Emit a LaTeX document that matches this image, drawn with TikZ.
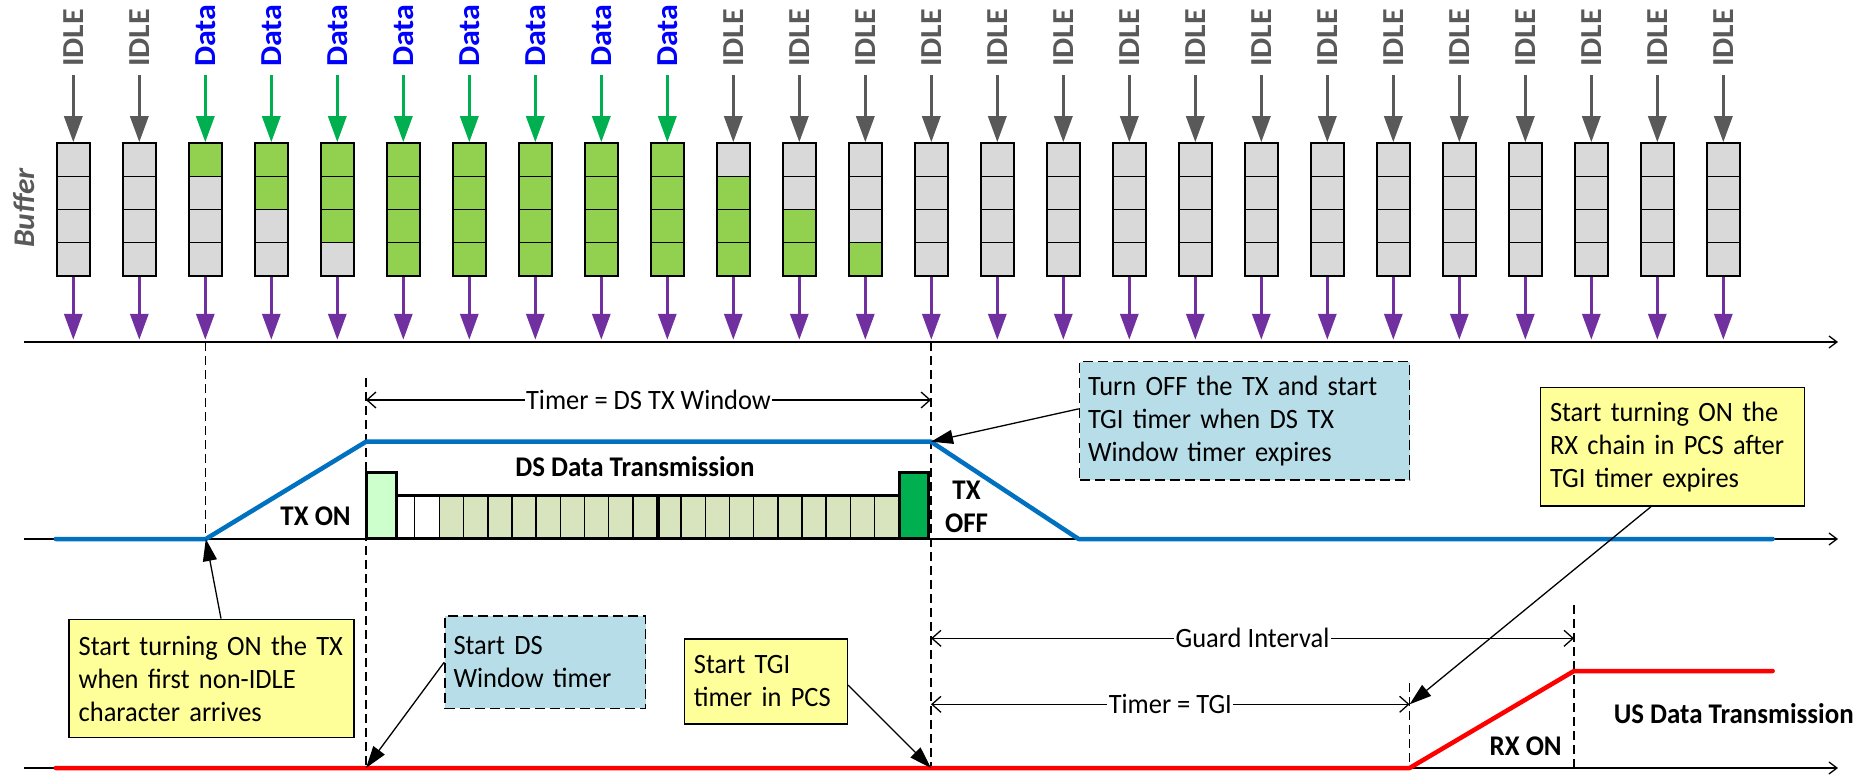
\documentclass[tikz,border=0pt]{standalone}
\usepackage{fontspec}
\setmainfont{Carlito}[FakeStretch=0.945]
\newfontfamily\colfamily{Carlito}[FakeStretch=1.05]
\usetikzlibrary{arrows.meta,calc}
\definecolor{idlegray}{HTML}{595959}
\definecolor{datablue}{HTML}{0000FF}
\definecolor{arrgreen}{HTML}{00B050}
\definecolor{arrpurple}{HTML}{7030A0}
\definecolor{cg}{HTML}{D9D9D9}
\definecolor{cG}{HTML}{92D050}
\definecolor{txblue}{HTML}{0070C0}
\definecolor{rxred}{HTML}{FF0000}
\definecolor{noteyellow}{HTML}{FFFF99}
\definecolor{noteblue}{HTML}{B7DEE8}
\definecolor{pktlight}{HTML}{CCFFCC}
\definecolor{pktolive}{HTML}{D7E4BD}
\definecolor{pktdark}{HTML}{00B050}
\newcommand{\txtfont}{\fontsize{28}{33}\selectfont}
\newcommand{\boldlabfont}{\fontsize{28.5}{33}\selectfont\bfseries}
\newcommand{\colfont}{\fontsize{30.5}{36}\selectfont\colfamily\bfseries}
\begin{document}
\begin{tikzpicture}[x=1pt,y=-1pt,
  cellbox/.style={draw=black, line width=1.2pt},
  bufframe/.style={draw=black, line width=1.5pt, minimum width=33pt, minimum height=133pt, inner sep=0pt},
  collabel/.style={rotate=90, anchor=base west, inner sep=0pt, font=\colfont},
  colarrow/.style={line width=3.2pt, -{Triangle[length=26pt,width=18pt]}},
  axisline/.style={draw=black, line width=1.3pt, -{Straight Barb[length=8pt,width=12pt]}},
  vdash/.style={draw=black, line width=1.3pt, dash pattern=on 9pt off 5pt},
  dimline/.style={draw=black, line width=1.3pt, {Straight Barb[length=9pt,width=16pt]}-{Straight Barb[length=9pt,width=16pt]}},
  dimlabel/.style={fill=white, inner sep=1.5pt, font=\txtfont},
  sigtx/.style={draw=txblue, line width=4.5pt, line cap=round, line join=round},
  sigrx/.style={draw=rxred, line width=4.5pt, line cap=round, line join=round},
  pktcell/.style={draw=black, line width=1.5pt},
  pktframe/.style={draw=black, line width=3pt, inner sep=0pt, outer sep=0pt},
  notey/.style={draw=black, line width=1.5pt, fill=noteyellow, align=left, inner xsep=9.5pt, inner ysep=0pt, font=\txtfont},
  noteb/.style={draw=black, line width=1.5pt, dash pattern=on 10pt off 5pt, fill=noteblue, align=left, inner xsep=8.5pt, inner ysep=0pt, font=\txtfont},
  callarrow/.style={draw=black, line width=1.3pt, -{Triangle[length=22pt,width=14pt]}},
  siglabel/.style={font=\boldlabfont, inner sep=0pt, align=center}
]
\useasboundingbox (0,0) rectangle (1873,778);

% axes
\coordinate (a1s) at (24,342); \coordinate (a1e) at (1838,342);
\coordinate (a2s) at (24,539); \coordinate (a2e) at (1838,539);
\coordinate (a3s) at (24,768); \coordinate (a3e) at (1838,768);
\draw[axisline] (a1s) -- (a1e);
\draw[axisline] (a2s) -- (a2e);
\draw[axisline] (a3s) -- (a3e);

% buffer columns
\foreach \i/\lab/\tc/\ac/\ca/\cb/\cc/\cd in {
 1/IDLE/idlegray/idlegray/cg/cg/cg/cg,
 2/IDLE/idlegray/idlegray/cg/cg/cg/cg,
 3/Data/datablue/arrgreen/cG/cg/cg/cg,
 4/Data/datablue/arrgreen/cG/cG/cg/cg,
 5/Data/datablue/arrgreen/cG/cG/cG/cg,
 6/Data/datablue/arrgreen/cG/cG/cG/cG,
 7/Data/datablue/arrgreen/cG/cG/cG/cG,
 8/Data/datablue/arrgreen/cG/cG/cG/cG,
 9/Data/datablue/arrgreen/cG/cG/cG/cG,
 10/Data/datablue/arrgreen/cG/cG/cG/cG,
 11/IDLE/idlegray/idlegray/cg/cG/cG/cG,
 12/IDLE/idlegray/idlegray/cg/cg/cG/cG,
 13/IDLE/idlegray/idlegray/cg/cg/cg/cG,
 14/IDLE/idlegray/idlegray/cg/cg/cg/cg,
 15/IDLE/idlegray/idlegray/cg/cg/cg/cg,
 16/IDLE/idlegray/idlegray/cg/cg/cg/cg,
 17/IDLE/idlegray/idlegray/cg/cg/cg/cg,
 18/IDLE/idlegray/idlegray/cg/cg/cg/cg,
 19/IDLE/idlegray/idlegray/cg/cg/cg/cg,
 20/IDLE/idlegray/idlegray/cg/cg/cg/cg,
 21/IDLE/idlegray/idlegray/cg/cg/cg/cg,
 22/IDLE/idlegray/idlegray/cg/cg/cg/cg,
 23/IDLE/idlegray/idlegray/cg/cg/cg/cg,
 24/IDLE/idlegray/idlegray/cg/cg/cg/cg,
 25/IDLE/idlegray/idlegray/cg/cg/cg/cg,
 26/IDLE/idlegray/idlegray/cg/cg/cg/cg}{
  \pgfmathsetmacro{\xc}{73.3+66*(\i-1)}
  \draw[cellbox, fill=\ca] (\xc-16.5,143) rectangle (\xc+16.5,176.25);
  \draw[cellbox, fill=\cb] (\xc-16.5,176.25) rectangle (\xc+16.5,209.5);
  \draw[cellbox, fill=\cc] (\xc-16.5,209.5) rectangle (\xc+16.5,242.75);
  \draw[cellbox, fill=\cd] (\xc-16.5,242.75) rectangle (\xc+16.5,276);
  \node[bufframe] (buf\i) at (\xc,209.5) {};
  \node[collabel, text=\tc] (lab\i) at (\xc+9.7,67) {\lab};
  \draw[colarrow, draw=\ac] ($(buf\i.north)+(0,-67)$) -- (buf\i.north);
  \draw[colarrow, draw=arrpurple] (buf\i.south) -- ($(buf\i.south)+(0,63)$);
}
\node[font=\fontsize{30}{36}\selectfont\colfamily\bfseries\itshape, text=idlegray, rotate=90, inner sep=0pt] (buflab) at (24,208) {Buffer};

% dashed guides
\coordinate (dAt) at (205.8,342); \coordinate (dAb) at (205.8,539);
\coordinate (dBt) at (366,378);   \coordinate (dBb) at (366,768);
\coordinate (dCt) at (931,342);   \coordinate (dCb) at (931,768);
\coordinate (dDt) at (1409.6,683); \coordinate (dDb) at (1409.6,768);
\coordinate (dEt) at (1574,605);  \coordinate (dEb) at (1574,768);
\draw[vdash] (dAt) -- (dAb);
\draw[vdash] (dBt) -- (dBb);
\draw[vdash] (dCt) -- (dCb);
\draw[vdash] (dDt) -- (dDb);
\draw[vdash] (dEt) -- (dEb);

% TX signal
\coordinate (t1) at (55.8,539); \coordinate (t2) at (205.8,539);
\coordinate (t3) at (366,441.7); \coordinate (t4) at (931,441.7);
\coordinate (t5) at (1078.6,539); \coordinate (t6) at (1772.6,539);
\draw[sigtx] (t1) -- (t2) -- (t3) -- (t4) -- (t5) -- (t6);

% RX signal
\coordinate (r1) at (55.8,768); \coordinate (r2) at (1409.6,768);
\coordinate (r3) at (1574,671); \coordinate (r4) at (1772.6,671);
\draw[sigrx] (r1) -- (r2) -- (r3) -- (r4);

% DS packet
\foreach \k in {0,...,18}
  \draw[pktcell, fill=pktolive] ({439.5+24.17*\k},495) rectangle ({439.5+24.17*(\k+1)},538.7);
\draw[pktcell, fill=white] (396,495) rectangle (414.6,538.7);
\draw[pktcell, fill=white] (414.6,495) rectangle (439.5,538.7);
\draw[line width=3pt] (658.4,495) -- (658.4,538.7);
\node[pktframe, minimum width=503.5pt, minimum height=43.7pt, anchor=south west] (dsstrip) at (396,538.7) {};
\node[pktframe, fill=pktlight, minimum width=30pt, minimum height=66pt, anchor=south west] (dsfirst) at (366,538.7) {};
\node[pktframe, fill=pktdark, minimum width=29pt, minimum height=66pt, anchor=south west] (dslast) at (899.5,538.7) {};

% signal labels
\node[siglabel] (dslab) at (635,466.7) {DS Data Transmission};
\node[siglabel] (txonlab) at (315.6,516.7) {TX ON};
\node[siglabel] (txofflab) at (966.5,506.7) {TX\\OFF};
\node[siglabel] (rxonlab) at (1525.7,746.7) {RX ON};
\node[siglabel] (uslab) at (1733.7,713.3) {US Data Transmission};

% dimension lines
\coordinate (w1) at (366,400); \coordinate (w2) at (931,400);
\draw[dimline] (w1) -- (w2) node[dimlabel, midway] (wlab) {Timer = DS TX Window};
\coordinate (g1) at (931,638.3); \coordinate (g2) at (1574,638.3);
\draw[dimline] (g1) -- (g2) node[dimlabel, midway] (glab) {Guard Interval};
\coordinate (k1) at (931,704.3); \coordinate (k2) at (1409.6,704.3);
\draw[dimline] (k1) -- (k2) node[dimlabel, midway] (klab) {Timer = TGI};

% notes
\node[notey, text width=265.8pt, minimum height=118.4pt] (noteA) at (211.6,678.5)
  {\mbox{Start turning ON the TX}\\\mbox{when first non-IDLE}\\\mbox{character arrives}};
\node[noteb, text width=183.5pt, minimum height=92.3pt] (noteB) at (545.25,662.15)
  {\mbox{Start DS}\\\mbox{Window timer}};
\node[notey, text width=143.9pt, minimum height=85pt] (noteC) at (765.85,681.5)
  {\mbox{Start TGI}\\\mbox{timer in PCS}};
\node[noteb, text width=313.1pt, minimum height=118.3pt] (noteD) at (1244.55,420.85)
  {\mbox{Turn OFF the TX and start}\\\mbox{TGI timer when DS TX}\\\mbox{Window timer expires}};
\node[notey, text width=245.2pt, minimum height=118.7pt] (noteE) at (1672.6,446.65)
  {\mbox{Start turning ON the}\\\mbox{RX chain in PCS after}\\\mbox{TGI timer expires}};

% callout arrows
\draw[callarrow] ([xshift=9.4pt]noteA.north) -- (t2);
\draw[callarrow] (noteB.west) -- (dBb);
\draw[callarrow] ([yshift=-3.5pt]noteC.east) -- (dCb);
\draw[callarrow] ([yshift=12pt]noteD.west) -- (t4);
\draw[callarrow] ([xshift=-21.7pt]noteE.south) -- (k2);
\end{tikzpicture}
\end{document}
